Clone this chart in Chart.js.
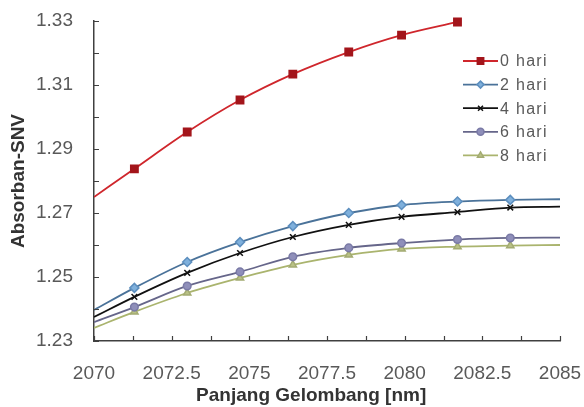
<!DOCTYPE html>
<html>
<head>
<meta charset="utf-8">
<script src="https://cdn.jsdelivr.net/npm/chart.js@4/dist/chart.umd.min.js"></script>
<style>
  html, body { margin: 0; padding: 0; background: #fff; }
</style>
</head>
<body>
<canvas id="chart" width="584" height="407"></canvas>
<script>
// wavelength positions (nm) of the readings
const wavelengths = [2070, 2071.3, 2073.0, 2074.7, 2076.4, 2078.2, 2079.9, 2081.7, 2083.4, 2085];

// absorbance per storage day
const hari0 = [1.2750, 1.2838, 1.2953, 1.3053, 1.3134, 1.3203, 1.3256, 1.3297];
const hari2 = [1.2397, 1.2466, 1.2547, 1.2609, 1.2659, 1.2700, 1.2725, 1.2736, 1.2741, 1.2743];
const hari4 = [1.2375, 1.2438, 1.2513, 1.2575, 1.2625, 1.2663, 1.2688, 1.2703, 1.2717, 1.2720];
const hari6 = [1.2359, 1.2406, 1.2472, 1.2516, 1.2563, 1.2591, 1.2606, 1.2617, 1.2622, 1.2623];
const hari8 = [1.2341, 1.2391, 1.2450, 1.2497, 1.2538, 1.2569, 1.2588, 1.2595, 1.2598, 1.2600];

const seriesLabels = ['0 hari', '2 hari', '4 hari', '6 hari', '8 hari'];

const LEFT = 94, BOTTOM = 341;
const H = 407;
const tickColor = '#595959';
const axisColor = '#404040';
const fontFam = '"Liberation Sans", Arial, sans-serif';

function toPoints(vals) {
  return vals.map((v, i) => ({ x: wavelengths[i], y: v }));
}

// no marker on the points sitting on the axis ends
function edgeRadius(r) {
  return ctx => {
    const x = ctx.raw ? ctx.raw.x : null;
    return (x === 2070 || x === 2085) ? 0 : r;
  };
}

const datasets = [
  { label: seriesLabels[0], data: toPoints(hari0), borderColor: '#cf262c', backgroundColor: '#a3151b',
    pointBorderColor: '#a3151b', pointStyle: 'rect', radius: edgeRadius(5.2) },
  { label: seriesLabels[1], data: toPoints(hari2), borderColor: '#4a7299', backgroundColor: '#7fb0dc',
    pointBorderColor: '#5d8fbf', pointStyle: 'rectRot', radius: edgeRadius(4.5) },
  { label: seriesLabels[2], data: toPoints(hari4), borderColor: '#111111', backgroundColor: '#111111',
    pointBorderColor: '#111111', pointStyle: 'crossRot', radius: edgeRadius(4) },
  { label: seriesLabels[3], data: toPoints(hari6), borderColor: '#66668a', backgroundColor: '#8f8fba',
    pointBorderColor: '#7a7aa6', pointStyle: 'circle', radius: edgeRadius(3.8) },
  { label: seriesLabels[4], data: toPoints(hari8), borderColor: '#aab46e', backgroundColor: '#b9c185',
    pointBorderColor: '#a3ab72', pointStyle: 'triangle', radius: edgeRadius(4.2) }
].map(d => Object.assign({
  borderWidth: 1.8,
  pointBorderWidth: 1.5,
  pointHoverRadius: 0,
  cubicInterpolationMode: 'monotone',
  clip: { left: 0, right: 0, top: 8, bottom: 0 }
}, d, {
  pointRadius: d.radius
}));

function isMultiple(v, base, step) {
  const k = (v - base) / step;
  return Math.abs(k - Math.round(k)) < 1e-6;
}

// inward tick marks on both axes
const innerTicks = {
  id: 'innerTicks',
  afterDraw(chart) {
    const c = chart.ctx;
    const xs = chart.scales.x, ys = chart.scales.y;
    const area = chart.chartArea;
    c.save();
    c.strokeStyle = axisColor;
    c.lineWidth = 1.2;
    c.beginPath();
    xs.ticks.forEach(t => {
      const px = Math.round(xs.getPixelForValue(t.value)) + 0.5;
      c.moveTo(px, area.bottom);
      c.lineTo(px, area.bottom - 5);
    });
    ys.ticks.forEach(t => {
      const py = Math.round(ys.getPixelForValue(t.value)) + 0.5;
      c.moveTo(area.left, py);
      c.lineTo(area.left + 5, py);
    });
    c.stroke();
    c.restore();
  }
};

// legend drawn inside the plot, top right
const innerLegend = {
  id: 'innerLegend',
  afterDraw(chart) {
    const c = chart.ctx;
    const x0 = 463, x1 = 498, y0 = 61, dy = 23.6;
    c.save();
    chart.data.datasets.forEach((ds, i) => {
      const y = y0 + i * dy;
      c.strokeStyle = ds.borderColor;
      c.lineWidth = 1.8;
      c.beginPath();
      c.moveTo(x0, y);
      c.lineTo(x1, y);
      c.stroke();
      c.fillStyle = ds.backgroundColor;
      c.strokeStyle = ds.pointBorderColor;
      c.lineWidth = 1.5;
      Chart.helpers.drawPoint(c, {
        pointStyle: ds.pointStyle, radius: ds.pointStyle === 'rect' ? 4.5 : 3.5,
        rotation: 0, borderWidth: 1.5
      }, (x0 + x1) / 2, y);
      c.fillStyle = tickColor;
      c.font = '16px ' + fontFam;
      if ('letterSpacing' in c) c.letterSpacing = '1.3px';
      c.textBaseline = 'middle';
      c.textAlign = 'left';
      c.fillText(ds.label, x1 + 2, y + 1);
    });
    c.restore();
  }
};

new Chart(document.getElementById('chart'), {
  type: 'line',
  data: { datasets: datasets },
  plugins: [innerTicks, innerLegend],
  options: {
    responsive: false,
    animation: false,
    events: [],
    layout: { padding: { left: 0, right: 24, top: 21, bottom: 0 } },
    plugins: {
      legend: { display: false },
      tooltip: { enabled: false }
    },
    scales: {
      x: {
        type: 'linear',
        min: 2070,
        max: 2085,
        grid: { display: false, drawTicks: false },
        border: { display: true, color: axisColor, width: 1.5 },
        ticks: {
          stepSize: 1.25,
          autoSkip: false,
          maxRotation: 0,
          padding: 21,
          color: tickColor,
          font: { family: fontFam, size: 19 },
          callback: v => isMultiple(v, 2070, 2.5) ? String(Math.round(v * 10) / 10) : ''
        },
        title: {
          display: true,
          // trailing spaces nudge the title left like in the original
          text: 'Panjang Gelombang [nm]' + '\u00a0'.repeat(6),
          color: '#333',
          font: { family: fontFam, size: 19, weight: 'bold' },
          padding: { top: 0, bottom: 0 }
        },
        afterFit(scale) {
          scale.height = H - BOTTOM;
          scale.paddingLeft = 0;
          scale.paddingRight = 0;
        }
      },
      y: {
        type: 'linear',
        min: 1.23,
        max: 1.33,
        grid: { display: false, drawTicks: false },
        border: { display: true, color: axisColor, width: 1.5 },
        ticks: {
          stepSize: 0.01,
          autoSkip: false,
          padding: 21,
          color: tickColor,
          font: { family: fontFam, size: 19 },
          callback: v => isMultiple(v, 1.23, 0.02) ? v.toFixed(2) : ''
        },
        title: {
          display: true,
          text: 'Absorban-SNV',
          color: '#333',
          font: { family: fontFam, size: 19, weight: 'bold' },
          padding: { top: 7, bottom: 0 }
        },
        afterFit(scale) {
          scale.width = LEFT;
          scale.paddingTop = 0;
          scale.paddingBottom = 0;
        }
      }
    }
  }
});
</script>
</body>
</html>
